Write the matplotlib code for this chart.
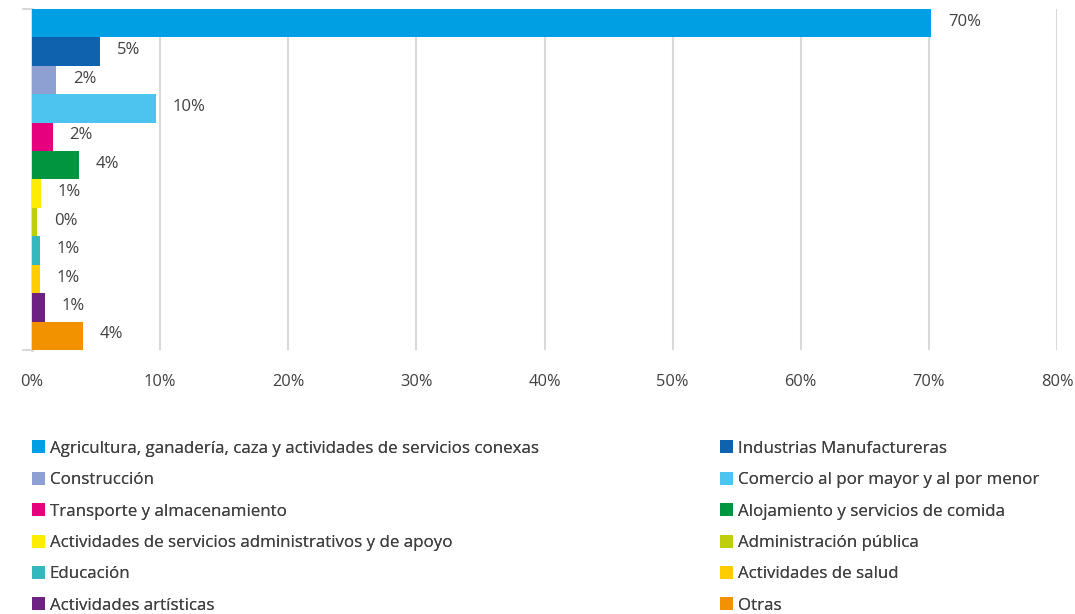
import matplotlib
matplotlib.use("Agg")
import matplotlib.pyplot as plt
from matplotlib.patches import Patch
from matplotlib.ticker import FuncFormatter

plt.rcParams['font.family'] = ['Open Sans', 'DejaVu Sans']

sectores = [
    "Agricultura, ganadería, caza y actividades de servicios conexas",
    "Industrias Manufactureras",
    "Construcción",
    "Comercio al por mayor y al por menor",
    "Transporte y almacenamiento",
    "Alojamiento y servicios de comida",
    "Actividades de servicios administrativos y de apoyo",
    "Administración pública",
    "Educación",
    "Actividades de salud",
    "Actividades artísticas",
    "Otras",
]
porcentajes = [70.2, 5.3, 1.9, 9.7, 1.6, 3.7, 0.7, 0.4, 0.6, 0.6, 1.0, 4.0]
colores = ["#009FE3", "#0F62AE", "#8EA0D2", "#4DC3F0", "#E6007E", "#009640",
           "#FFED00", "#BFCE0B", "#35B7BE", "#FFCC00", "#6D2281", "#F39200"]

gris = "#D9D9D9"
texto = "#404040"

fig = plt.figure(figsize=(10.75, 6.14), dpi=100)
ax = fig.add_axes([0.0298, 0.430, 0.9535, 0.5555])

y = list(range(len(sectores)))
ax.barh(y, porcentajes, height=1.0, color=colores, zorder=3)
for yi, v in zip(y, porcentajes):
    ax.text(v + 1.3, yi - 0.05, f"{v:.0f}%", va="center", ha="left",
            fontsize=12, color=texto, zorder=4)

ax.set_xlim(0, 80)
ax.set_ylim(len(sectores) - 0.5, -0.5)
ax.set_xticks(range(0, 81, 10))
ax.xaxis.set_major_formatter(FuncFormatter(lambda x, p: f"{x:.0f}%"))
ax.tick_params(axis="x", length=0, pad=17, labelsize=11.8, labelcolor=texto)
ax.set_yticks([-0.5, len(sectores) - 0.5])
ax.set_yticklabels([])
ax.tick_params(axis="y", length=7, width=1.5, color=gris)
ax.grid(axis="x", color=gris, linewidth=1.5, zorder=0)
for s in ["top", "right", "bottom"]:
    ax.spines[s].set_visible(False)
ax.spines["left"].set_color(gris)
ax.spines["left"].set_linewidth(2)

# leyenda en dos columnas: impares a la izquierda, pares a la derecha
handles = [Patch(facecolor=c, edgecolor="none") for c in colores]
for start, x0 in [(0, 0.0296), (1, 0.6696)]:
    leg = fig.legend(handles[start::2], sectores[start::2], loc="upper left",
                     bbox_to_anchor=(x0, 0.283), frameon=False,
                     fontsize=12.2, labelcolor=texto, handlelength=0.8,
                     handleheight=0.8, handletextpad=0.25, labelspacing=0.89,
                     borderaxespad=0, borderpad=0)
    fig.add_artist(leg)

fig.savefig("out.png", dpi=100)
